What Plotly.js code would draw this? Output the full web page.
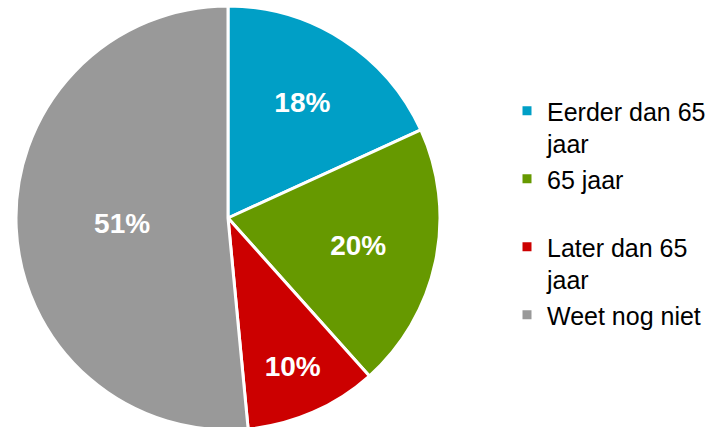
<!DOCTYPE html>
<html>
<head>
<meta charset="utf-8">
<script src="https://cdn.plot.ly/plotly-3.0.1.min.js"></script>
<style>
  html, body { margin: 0; padding: 0; background: #fff; overflow: hidden; }
  #grafiek { width: 724px; height: 440px; }
</style>
</head>
<body>
<div id="grafiek"></div>
<script>
// data uit de grafiek
const categorieen = ["Eerder dan 65<br>jaar", "65 jaar<br> ", "Later dan 65<br>jaar", "Weet nog niet"];
const waarden = [18, 20, 10, 51];
const labels = ["18%", "20%", "10%", "51%"];
const kleuren = ["#009fc6", "#669900", "#cc0000", "#999999"];

const hoogte = 440;

const data = [{
    type: 'pie',
    labels: categorieen,
    values: waarden,
    text: labels,
    textinfo: 'text',
    textposition: 'inside',
    insidetextorientation: 'horizontal',
    sort: false,
    direction: 'clockwise',
    rotation: 0,
    marker: {
        colors: kleuren,
        line: { color: '#ffffff', width: 3 }
    },
    textfont: { family: 'Liberation Sans, Arial, sans-serif', size: 28, color: '#ffffff', weight: 'bold' },
    domain: { x: [16 / 724, 440 / 724], y: [(hoogte - 430) / hoogte, (hoogte - 6) / hoogte] },
    hoverinfo: 'none'
}];

const layout = {
    width: 724,
    height: hoogte,
    margin: { l: 0, r: 0, t: 0, b: 0 },
    paper_bgcolor: '#ffffff',
    showlegend: true,
    legend: {
        x: 507 / 724,
        xanchor: 'left',
        y: (hoogte - 88) / hoogte,
        yanchor: 'top',
        valign: 'top',
        font: { family: 'Liberation Sans, Arial, sans-serif', size: 25, color: '#000000' },
        bgcolor: 'rgba(0,0,0,0)'
    }
};

Plotly.newPlot('grafiek', data, layout, { staticPlot: true });
</script>
</body>
</html>
